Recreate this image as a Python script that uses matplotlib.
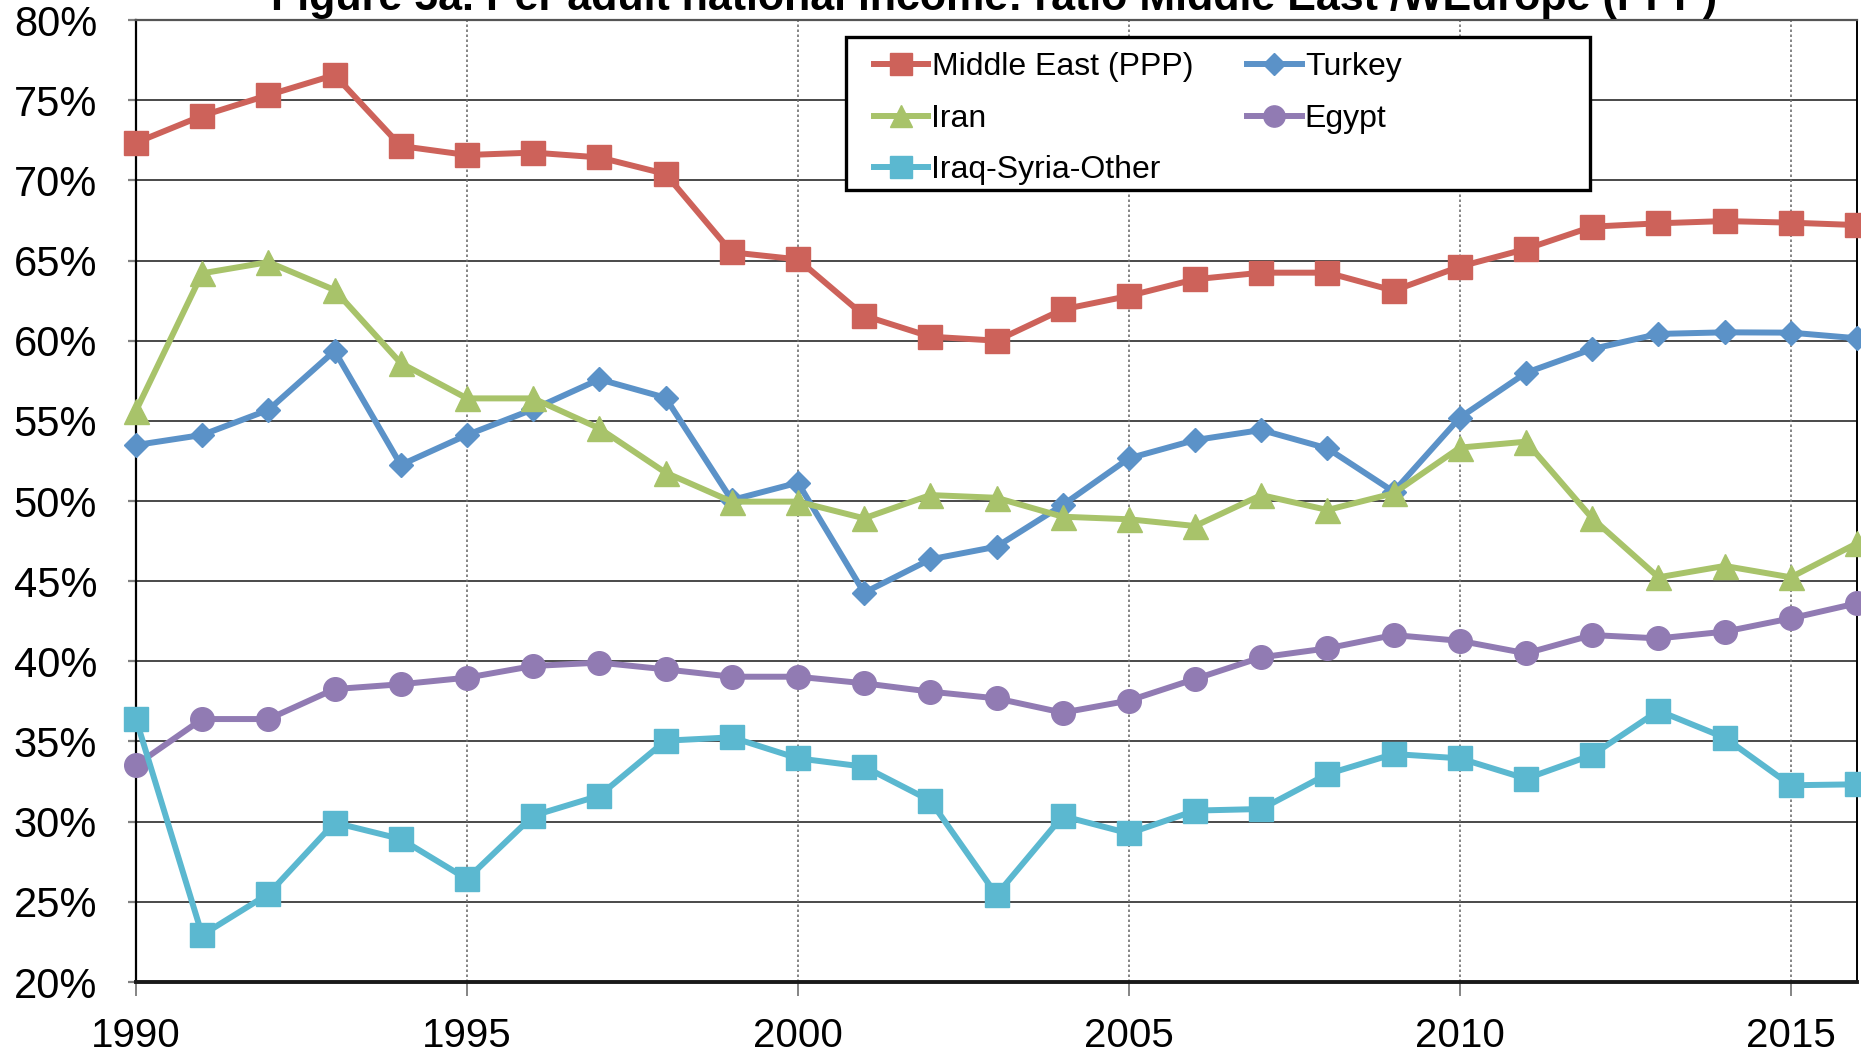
import numpy as np
import matplotlib
matplotlib.use("Agg")
import matplotlib.pyplot as plt
from matplotlib.patches import Rectangle
from matplotlib.ticker import FuncFormatter

plt.rcParams['font.family'] = ['Liberation Sans', 'DejaVu Sans']

# donnees (en %)
years = list(range(1990, 2017))
middle_east = [72.35, 74.03, 75.32, 76.57, 72.14, 71.58, 71.73, 71.43, 70.4, 65.51, 65.07, 61.56, 60.25, 60.0,
               61.95, 62.79, 63.83, 64.24, 64.24, 63.12, 64.62, 65.72, 67.11, 67.32, 67.46, 67.36, 67.21]
turkey = [53.49, 54.12, 55.68, 59.36, 52.25, 54.12, 55.72, 57.59, 56.44, 50.06, 51.14, 44.28, 46.36, 47.15,
          49.75, 52.66, 53.8, 54.43, 53.28, 50.58, 55.2, 58.0, 59.48, 60.42, 60.52, 60.5, 60.15]
iran = [55.63, 64.2, 64.9, 63.16, 58.6, 56.4, 56.4, 54.53, 51.77, 49.96, 49.96, 48.92, 50.37, 50.2,
        49.02, 48.86, 48.44, 50.37, 49.44, 50.48, 53.33, 53.7, 48.92, 45.24, 45.95, 45.24, 47.36]
egypt = [33.53, 36.4, 36.4, 38.27, 38.57, 38.98, 39.71, 39.92, 39.5, 39.04, 39.04, 38.63, 38.11, 37.69,
         36.8, 37.55, 38.9, 40.25, 40.81, 41.64, 41.28, 40.5, 41.64, 41.43, 41.85, 42.68, 43.62]
iraq_syria = [36.4, 22.93, 25.49, 29.94, 28.92, 26.42, 30.37, 31.62, 35.05, 35.26, 33.95, 33.43, 31.31, 25.43,
              30.35, 29.27, 30.69, 30.79, 32.97, 34.22, 33.95, 32.68, 34.16, 36.92, 35.24, 32.27, 32.33]

titre = "Figure 5a. Per adult national income: ratio Middle East /WEurope (PPP)"

W, H = 1861, 1056
fig = plt.figure(figsize=(W / 100, H / 100), dpi=100)
# axe: x 136->1857 px, y 20->982 px
ax = fig.add_axes([136 / W, 1 - 982 / H, (1857 - 136) / W, (982 - 20) / H])

lw = 4.3
l_me, = ax.plot(years, middle_east, color='#CD625A', lw=lw, marker='s', ms=17, clip_on=False, zorder=3,
                label='Middle East (PPP)')
l_tu, = ax.plot(years, turkey, color='#5B92C8', lw=lw, marker='D', ms=12.5, clip_on=False, zorder=3,
                label='Turkey')
l_ir, = ax.plot(years, iran, color='#A8C36A', lw=lw, marker='^', ms=18, clip_on=False, zorder=3,
                label='Iran')
l_eg, = ax.plot(years, egypt, color='#917BB3', lw=lw, marker='o', ms=17, clip_on=False, zorder=3,
                label='Egypt')
l_iq, = ax.plot(years, iraq_syria, color='#5BB8D0', lw=lw, marker='s', ms=17, clip_on=False, zorder=3,
                label='Iraq-Syria-Other')

ax.set_xlim(1990, 2016)
ax.set_ylim(20, 80)
ax.set_yticks(np.arange(20, 81, 5))
ax.set_xticks(np.arange(1990, 2016, 5))
ax.yaxis.set_major_formatter(FuncFormatter(lambda v, p: '%d%%' % v))

for y in np.arange(25, 80, 5):
    ax.axhline(y, color='#3a3a3a', lw=1.3, zorder=1)
for x in np.arange(1995, 2016, 5):
    ax.axvline(x, color='#707070', lw=1.2, ls=(0, (1.5, 1.5)), zorder=1)

ax.spines['left'].set_color('black')
ax.spines['left'].set_linewidth(1.6)
ax.spines['bottom'].set_color('#1a1a1a')
ax.spines['bottom'].set_linewidth(2.8)
ax.spines['right'].set_color('black')
ax.spines['right'].set_linewidth(1.4)
ax.spines['top'].set_color('#555555')
ax.spines['top'].set_linewidth(1.6)

ax.tick_params(axis='y', direction='out', length=6, width=1.6, color='#808080', labelsize=30, pad=22)
ax.tick_params(axis='x', direction='out', length=10, width=1.2, color='#707070', labelsize=29, pad=15)

# cadre de legende
rect = Rectangle((846, H - 190), 1590 - 846, 190 - 37, transform=None, facecolor='white',
                 edgecolor='black', lw=2.4, zorder=5, clip_on=False)
ax.add_patch(rect)

leg = ax.legend([l_me, l_ir, l_iq, l_tu, l_eg],
                ['Middle East (PPP)', 'Iran', 'Iraq-Syria-Other', 'Turkey', 'Egypt'],
                ncol=2, loc='upper left', bbox_to_anchor=(874 / W, 1 - 52 / H),
                bbox_transform=fig.transFigure, frameon=False, fontsize=23,
                handlelength=1.7, handletextpad=0.1, columnspacing=1.7,
                labelspacing=0.68, borderpad=0, borderaxespad=0, markerscale=0.9)
leg.set_zorder(6)

fig.text(994 / W, 1 - 10 / H, titre, ha='center', va='baseline', fontsize=31, fontweight='bold')

fig.savefig('out.png', dpi=100)
